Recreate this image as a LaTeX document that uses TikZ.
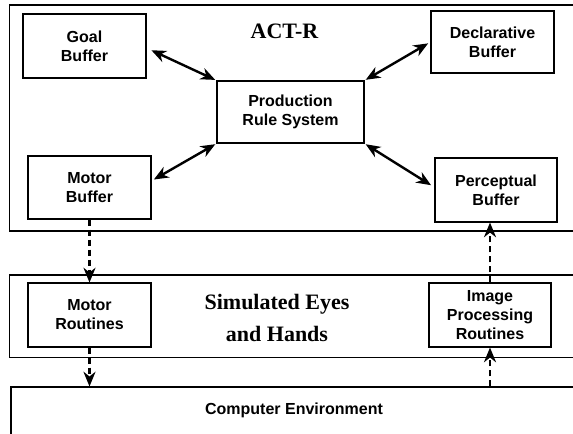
\documentclass[tikz,border=0pt]{standalone}
\usepackage{fontspec}
\setmainfont{Liberation Serif}
\setsansfont{Liberation Sans}
\usetikzlibrary{fit,arrows.meta}

\begin{document}
\begin{tikzpicture}[x=0.75pt,y=-0.75pt,
	box/.style={draw,line width=0.8pt,inner sep=0pt,align=center,
		font=\sffamily\bfseries\fontsize{12}{14.25}\selectfont},
	module/.style={box,minimum width=92.25pt,minimum height=48pt},
	title/.style={align=center,font=\rmfamily\bfseries\fontsize{16.5}{24}\selectfont},
	link/.style={line width=1.8pt,{Stealth[length=11pt,width=9pt,inset=3.5pt]}-{Stealth[length=11pt,width=9pt,inset=3.5pt]}},
	flow/.style={line width=1.8pt,dash pattern=on 5pt off 2.5pt,-{Stealth[length=11pt,width=9pt,inset=3.5pt]}}]

		\useasboundingbox (0,0) rectangle (573,433);

		% outer layers
		\node (actr) [box,fit={(9.5,5) (580,231)}] {};
		\node (sim) [box,fit={(9.5,275) (580,357.5)}] {};
		\node (env) [box,fit={(11,387) (580,440)}] {};
		\node (actrt) [title] at (284.5,31) {ACT-R};
		\node (simt) [title] at (277,318) {Simulated Eyes\\and Hands};
		\node (envt) [box,draw=none] at (294,410) {Computer Environment};

		% ACT-R modules
		\node (goal) [module] at (84.5,46) {Goal\\Buffer};
		\node (prod) [module,minimum width=110.25pt,minimum height=46.5pt] at (290.5,112) {Production\\Rule System};
		\node (motor) [module,minimum height=47.25pt] at (89.5,187.5) {Motor\\Buffer};
		\node (decl) [module,minimum height=46.5pt] at (492.5,42) {Declarative\\Buffer};
		\node (perc) [module,minimum width=91.5pt] at (496,190) {Perceptual\\Buffer};

		% routines
		\node (motorrt) [module] at (89.5,315) {Motor\\Routines};
		\node (imgproc) [module,minimum width=91.5pt] at (490,315) {Image\\Processing\\Routines};

		\draw[link,shorten <=4pt,shorten >=1pt] ([yshift=-1.5pt]goal.east) -- (prod.north west);
		\draw[link,shorten <=2pt,shorten >=1pt] ([yshift=5pt]motor.east) -- (prod.south west);
		\draw[link,shorten <=1pt,shorten >=2pt] (prod.north east) -- (decl.west);
		\draw[link,shorten <=1pt,shorten >=3pt] (prod.south east) -- ([yshift=2pt]perc.west);

		\draw[flow] (motor.south) -- (motorrt.north);
		\draw[flow] (motorrt.south) -- (motorrt.south |- env.north);
		\draw[flow] (imgproc.south |- env.north) -- (imgproc.south);
		\draw[flow] (imgproc.north) -- (imgproc.north |- perc.south);

\end{tikzpicture}
\end{document}
